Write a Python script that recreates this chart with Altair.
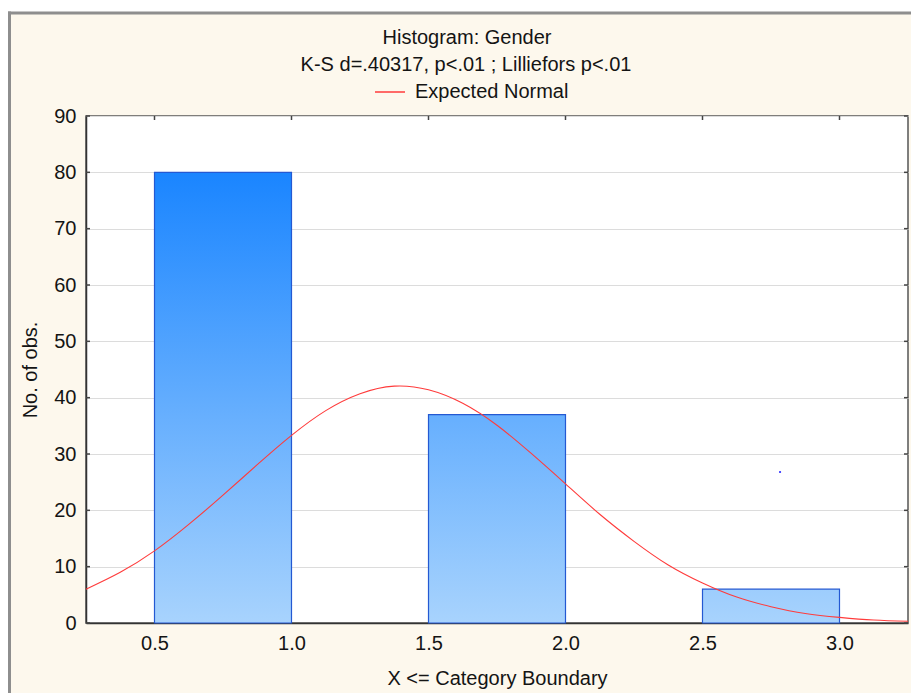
import altair as alt
import pandas as pd

# ---------------- data ----------------
bin_start = [0.5, 1.0, 1.5, 2.0, 2.5]
bin_end = [1.0, 1.5, 2.0, 2.5, 3.0]
counts = [80, 0, 37, 0, 6]

curve_x = [0.25, 0.375, 0.5, 0.625, 0.75, 0.875, 1.0, 1.125, 1.25, 1.375, 1.5, 1.625,
           1.75, 1.875, 2.0, 2.125, 2.25, 2.375, 2.5, 2.625, 2.75, 2.875, 3.0, 3.125, 3.25]
curve_y = [6.0, 9.0, 12.8, 17.5, 22.7, 28.1, 33.3, 37.7, 40.7, 42.05, 41.4, 39.0,
           35.1, 30.1, 24.7, 19.3, 14.5, 10.3, 7.1, 4.6, 2.9, 1.7, 1.0, 0.52, 0.3]

x_ticks = [0.5, 1.0, 1.5, 2.0, 2.5, 3.0]
y_ticks = [0, 10, 20, 30, 40, 50, 60, 70, 80, 90]

stray_x = [2.783]
stray_y = [26.8]

title_text = "Histogram: Gender"
subtitle_text = "K-S d=.40317, p<.01 ; Lilliefors p<.01"
series_name = "Expected Normal"

# ---------------- style ----------------
FONT = "Liberation Sans"
FS = 20
TXT = "#141414"
BEIGE = "#fdf8ed"
TOP_BLUE = (26, 133, 255)
BOT_BLUE = (168, 211, 253)
BAR_STROKE = "#2459d2"
RED = "#ff3b3b"
W, H = 822, 507

x_scale = alt.Scale(domain=[0.25, 3.25], nice=False, zero=False)
y_scale = alt.Scale(domain=[0, 90], nice=False)

one = pd.DataFrame({"a": [0]})


def hexcol(c):
    return "#%02x%02x%02x" % tuple(int(round(v)) for v in c)


def lerp(a, b, t):
    return tuple(a[i] + (b[i] - a[i]) * t for i in range(3))


bars_df = pd.DataFrame({"start": bin_start, "end": bin_end, "count": counts})

x_axis = alt.Axis(values=x_ticks, format=".1f", title="X <= Category Boundary",
                  grid=False, ticks=False, tickSize=0, labelPadding=10,
                  labelFont=FONT, labelFontSize=FS, labelColor=TXT,
                  titleFont=FONT, titleFontSize=FS, titleFontWeight="normal", titleColor=TXT,
                  titleX=W / 2, titleY=55, titleBaseline="middle",
                  domainColor="#333333", domainWidth=1.5)
y_axis = alt.Axis(values=y_ticks, title="No. of obs.",
                  grid=True, gridColor="#dcdcdc", gridWidth=1,
                  ticks=False, tickSize=0, labelPadding=10,
                  labelFont=FONT, labelFontSize=FS, labelColor=TXT,
                  titleFont=FONT, titleFontSize=FS, titleFontWeight="normal", titleColor=TXT,
                  titleX=-56, titleY=H / 2, titleAngle=270, titleAlign="center",
                  titleBaseline="middle",
                  domainColor="#333333", domainWidth=1.5)


def X(field):
    return alt.X(field, scale=x_scale, axis=x_axis, title="X <= Category Boundary")


def Y(field):
    return alt.Y(field, scale=y_scale, axis=y_axis, title="No. of obs.")


layers = []

# decorative window frame (white strips + gray border)
layers.append(alt.Chart(one).mark_rect(color="white").encode(
    x=alt.value(-86), x2=alt.value(W + 3), y=alt.value(-116), y2=alt.value(-103)))
layers.append(alt.Chart(one).mark_rect(color="white").encode(
    x=alt.value(-86), x2=alt.value(-77), y=alt.value(-116), y2=alt.value(H + 70)))
layers.append(alt.Chart(one).mark_rule(color="#8e8e8e", strokeWidth=3).encode(
    x=alt.value(-78), x2=alt.value(W + 3), y=alt.value(-103)))
layers.append(alt.Chart(one).mark_rule(color="#8e8e8e", strokeWidth=3).encode(
    x=alt.value(-76.5), y=alt.value(-104.5), y2=alt.value(H + 70)))

# bars with vertical gradient (gradient spans the value range 0..80)
for i in range(len(counts)):
    if counts[i] <= 0:
        continue
    t = counts[i] / 80.0
    top = hexcol(lerp(BOT_BLUE, TOP_BLUE, t))
    grad = alt.Gradient(gradient="linear", x1=0, x2=0, y1=0, y2=1,
                        stops=[alt.GradientStop(offset=0, color=top),
                               alt.GradientStop(offset=1, color=hexcol(BOT_BLUE))])
    layers.append(alt.Chart(bars_df.iloc[[i]]).mark_bar(
        color=grad, stroke=BAR_STROKE, strokeWidth=1.2).encode(
        x=X("start:Q"),
        x2="end:Q",
        y=Y("count:Q"),
        y2=alt.datum(0),
    ))

# inward ticks on the frame
xt = pd.DataFrame({"v": x_ticks})
yt = pd.DataFrame({"v": y_ticks})
tick_col = "#444444"
layers.append(alt.Chart(xt).mark_rule(color=tick_col, strokeWidth=1.5).encode(
    x=X("v:Q"), y=alt.value(0), y2=alt.value(4)))
layers.append(alt.Chart(yt).mark_rule(color=tick_col, strokeWidth=1.5).encode(
    y=Y("v:Q"), x=alt.value(0), x2=alt.value(4)))
layers.append(alt.Chart(yt).mark_rule(color=tick_col, strokeWidth=1.5).encode(
    y=Y("v:Q"), x=alt.value(W - 4), x2=alt.value(W)))

# expected normal curve
curve_df = pd.DataFrame({"x": curve_x, "y": curve_y, "series": [series_name] * len(curve_x)})
layers.append(alt.Chart(curve_df).mark_line(strokeWidth=1.1, interpolate="natural").encode(
    x=X("x:Q"),
    y=Y("y:Q"),
    color=alt.Color("series:N", scale=alt.Scale(domain=[series_name], range=[RED]),
                    legend=alt.Legend(orient="none", legendX=288, legendY=-40, title=None,
                                      symbolType="stroke", symbolSize=900,
                                      symbolStrokeWidth=1.5, labelOffset=9,
                                      labelFont=FONT, labelFontSize=FS, labelColor=TXT,
                                      padding=0)),
))

# stray dot visible in the reference
layers.append(alt.Chart(pd.DataFrame({"x": stray_x, "y": stray_y})).mark_square(
    size=4, color="#3a3aff", opacity=0.9).encode(x=X("x:Q"), y=Y("y:Q")))

# title and subtitle
layers.append(alt.Chart(one).mark_text(text=title_text, font=FONT, fontSize=FS, color=TXT,
                                      align="center", baseline="middle").encode(
    x=alt.value(381), y=alt.value(-78)))
layers.append(alt.Chart(one).mark_text(text=subtitle_text, font=FONT, fontSize=FS, color=TXT,
                                      align="center", baseline="middle").encode(
    x=alt.value(380), y=alt.value(-51)))

chart = alt.layer(*layers).properties(
    width=W, height=H,
    autosize=alt.AutoSizeParams(type="none"),
    padding={"left": 86, "top": 116, "right": 3, "bottom": 70},
).configure(background=BEIGE).configure_view(fill="white", stroke="#555555", strokeWidth=1.5)

chart.save("out.html", embed_options={"renderer": "svg", "actions": False})
